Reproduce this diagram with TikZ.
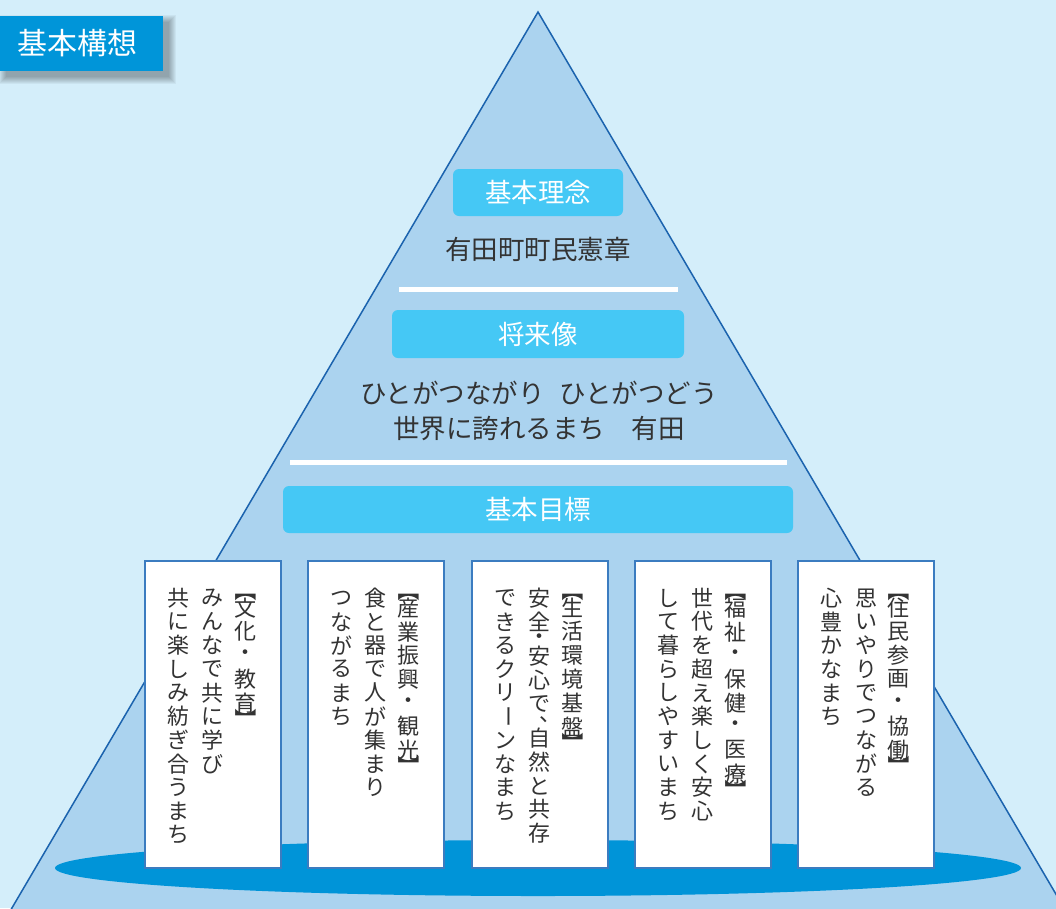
\documentclass[tikz,border=0pt]{standalone}
\usepackage{fontspec}
\usepackage{graphicx}
\newfontfamily\jp{Noto Sans CJK JP}
\definecolor{bgc}{HTML}{D4EEFA}
\definecolor{tric}{HTML}{ABD3EF}
\definecolor{tribord}{HTML}{1B63AE}
\definecolor{capc}{HTML}{45C8F5}
\definecolor{titc}{HTML}{0095D9}
\definecolor{ellc}{HTML}{0094D8}
\definecolor{boxbord}{HTML}{3B7CC0}
\definecolor{txt}{HTML}{333333}
\makeatletter
\newlength\vt@cell
\def\vt@lb{【}\def\vt@rb{】}\def\vt@hd{･}\def\vt@cm{、}\def\vt@ln{ー}
\def\vt@put#1#2{\vbox to #1{\vss\hbox to 1em{\hss#2\hss}\vss}}
\def\vt@char#1{\def\vt@tmp{#1}%
  \ifx\vt@tmp\vt@lb \vt@put{0.45em}{\raisebox{0.2em}{\rotatebox[origin=c]{-90}{【}}}%
  \else\ifx\vt@tmp\vt@rb \vt@put{0.45em}{\raisebox{-0.2em}{\rotatebox[origin=c]{-90}{】}}}%
  \else\ifx\vt@tmp\vt@hd \vt@put{0.5em}{・}%
  \else\ifx\vt@tmp\vt@cm \vbox to 0.5em{\vss\hbox to 1em{\hskip0.5em\hbox to 0.5em{\hss\smash{\hbox to 0pt{、\hss}}\hskip0.5em}\hss}\vss}%
  \else\ifx\vt@tmp\vt@ln \vt@put{\vt@cell}{\rotatebox[origin=c]{-90}{ー}}%
  \else \vt@put{\vt@cell}{#1}%
  \fi\fi\fi\fi\fi}
\def\vt@loop#1{\ifx#1\relax\else\vt@char{#1}\expandafter\vt@loop\fi}
\newcommand\vtext[1]{\setlength\vt@cell{1.077em}\vbox{\offinterlineskip\vt@loop#1\relax}}
\makeatother
\begin{document}
\begin{tikzpicture}[x=1pt,y=-1pt,
  capbox/.style={fill=capc, rounded corners=6pt, text=white, font=\jp\fontsize{26.5}{30}\selectfont, inner sep=0},
  bodytext/.style={text=txt, font=\jp\fontsize{26.5}{35}\selectfont, inner sep=0, align=center},
  goalbox/.style={draw=boxbord, line width=1.4pt, fill=white, minimum width=136pt, minimum height=307pt, inner sep=0},
  vcol/.style={anchor=north, inner sep=0, text=txt, font=\jp\fontsize{22}{24}\selectfont},
  divider/.style={white, line width=5pt}]
\useasboundingbox (0,0) rectangle (1056,908);
\fill[bgc] (0,0) rectangle (1056,908);
\begin{scope}
\clip (0,0) rectangle (1056,908);
\filldraw[fill=tric, draw=tribord, line width=1.5pt] (-1,930) -- (538,12) -- (1077,930) -- cycle;
\end{scope}
% title shadow (soft, down-right)
\foreach \k in {0,1,...,7}{
  \fill[black, opacity=0.045] (6-\k,22-\k) rectangle (169+\k,77+\k);
}
% title
\node[fill=titc, minimum width=163pt, minimum height=55pt, anchor=north west, inner sep=0] (title) at (0,16) {};
\node[text=white, font=\jp\fontsize{30}{32}\selectfont, inner sep=0] (titletext) at (77,43.5) {基本構想};
% top part
\node[capbox, minimum width=170pt, minimum height=47pt] (cap1) at (538,192.5) {基本理念};
\node[bodytext] (txt1) at (538,249) {有田町町民憲章};
\draw[divider] (399,289) -- (678,289);
\node[capbox, minimum width=292pt, minimum height=48pt] (cap2) at (538,334) {将来像};
\node[bodytext] (txt2) at (539,410.5) {ひとがつながり\hspace{0.55em}ひとがつどう\\世界に誇れるまち　有田};
\draw[divider] (290,462) -- (787,462);
\node[capbox, minimum width=510pt, minimum height=47pt] (cap3) at (538,509.5) {基本目標};
% base ellipse
\fill[ellc] (538,868) ellipse [x radius=483pt, y radius=28pt];
% goal boxes
\node[goalbox] (b1) at (213,714.5) {};
\node[goalbox] (b2) at (376,714.5) {};
\node[goalbox] (b3) at (540,714.5) {};
\node[goalbox] (b4) at (703,714.5) {};
\node[goalbox] (b5) at (866,714.5) {};
\node[vcol] (b1c1) at (245.5,586) {\vtext{【文化・教育】}};
\node[vcol] (b1c2) at (212.5,586) {\vtext{みんなで共に学び}};
\node[vcol] (b1c3) at (178.5,586) {\vtext{共に楽しみ紡ぎ合うまち}};
\node[vcol] (b2c1) at (408.5,586) {\vtext{【産業振興・観光】}};
\node[vcol] (b2c2) at (375.5,586) {\vtext{食と器で人が集まり}};
\node[vcol] (b2c3) at (341,586) {\vtext{つながるまち}};
\node[vcol] (b3c1) at (572.5,586) {\vtext{【生活環境基盤】}};
\node[vcol] (b3c2) at (539.5,586) {\vtext{安全･安心で、自然と共存}};
\node[vcol] (b3c3) at (505,586) {\vtext{できるクリーンなまち}};
\node[vcol] (b4c1) at (735.5,586) {\vtext{【福祉・保健・医療】}};
\node[vcol] (b4c2) at (702.5,586) {\vtext{世代を超え楽しく安心}};
\node[vcol] (b4c3) at (668,586) {\vtext{して暮らしやすいまち}};
\node[vcol] (b5c1) at (898.5,586) {\vtext{【住民参画・協働】}};
\node[vcol] (b5c2) at (866,586) {\vtext{思いやりでつながる}};
\node[vcol] (b5c3) at (831,586) {\vtext{心豊かなまち}};
\end{tikzpicture}
\end{document}
